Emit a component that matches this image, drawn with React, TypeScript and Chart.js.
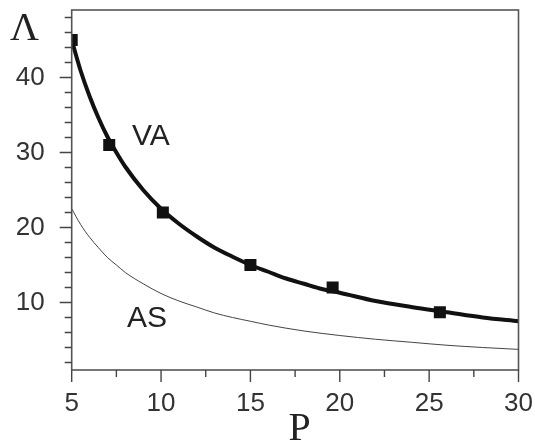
import React, { useEffect, useRef } from "react";
import { Chart, registerables } from "chart.js";

Chart.register(...registerables);

// VA fitted curve (thick line)
const vaCurveP = [5, 5.5, 6, 6.5, 7, 7.5, 8, 9, 10, 11, 12, 13, 14, 15, 16, 17, 18, 19, 20, 22, 24, 26, 28, 30];
const vaCurveL = [45, 40.9, 37.5, 34.6, 32.1, 30, 28.1, 25, 22.5, 20.5, 18.8, 17.3, 16.1, 15, 14.1, 13.2, 12.5, 11.8, 11.3, 10.2, 9.4, 8.7, 8.0, 7.5];
// VA measured points (squares)
const vaPointsP = [5, 7.1, 10.1, 15, 19.6, 25.6];
const vaPointsL = [45, 31, 22, 15, 12, 8.7];
// AS curve (thin line)
const asCurveP = [5, 5.5, 6, 6.5, 7, 7.5, 8, 9, 10, 11, 12, 13, 14, 15, 16, 18, 20, 22, 24, 26, 28, 30];
const asCurveL = [22.5, 20.4, 18.7, 17.3, 16, 15, 14, 12.5, 11.2, 10.2, 9.4, 8.6, 8.0, 7.5, 7.0, 6.2, 5.6, 5.1, 4.7, 4.3, 4.0, 3.75];

const xMajorTicks = [5, 10, 15, 20, 25, 30];
const xMinorTicks = [7.5, 12.5, 17.5, 22.5, 27.5];
const yMajorTicks = [10, 20, 30, 40];
const yMinorTicks = [2, 4, 6, 8, 12, 14, 16, 18, 22, 24, 26, 28, 32, 34, 36, 38, 42, 44, 46, 48];

const curveLabels = [
  { text: "VA", p: 8.37, l: 31.0 },
  { text: "AS", p: 8.09, l: 6.76 },
];
const xTitle = "P";
const yTitle = "Λ";

const zip = (xs: number[], ys: number[]) => xs.map((x, i) => ({ x, y: ys[i] }));

const zeroPad = (s: any) => {
  s.paddingTop = 0;
  s.paddingBottom = 0;
  s.paddingLeft = 0;
  s.paddingRight = 0;
};

export default function App() {
  const ref = useRef<HTMLCanvasElement | null>(null);
  useEffect(() => {
    document.body.style.margin = "0";
    const canvas = ref.current;
    if (!canvas) return;

    const decor = {
      id: "decor",
      afterDraw(chart: any) {
        const { ctx, chartArea: a, scales } = chart;
        const xs = scales.x;
        const ys = scales.y;
        ctx.save();
        // frame
        ctx.strokeStyle = "#555";
        ctx.lineWidth = 1.6;
        ctx.strokeRect(a.left, a.top, a.right - a.left, a.bottom - a.top);
        // ticks
        ctx.lineWidth = 1.4;
        ctx.strokeStyle = "#444";
        ctx.beginPath();
        const xt = (v: number, len: number) => {
          const px = xs.getPixelForValue(v);
          ctx.moveTo(px, a.bottom);
          ctx.lineTo(px, a.bottom + len);
        };
        const yt = (v: number, len: number) => {
          const py = ys.getPixelForValue(v);
          ctx.moveTo(a.left, py);
          ctx.lineTo(a.left - len, py);
        };
        xMajorTicks.forEach((v) => xt(v, 12));
        xMinorTicks.forEach((v) => xt(v, 7));
        yMajorTicks.forEach((v) => yt(v, 12));
        yMinorTicks.forEach((v) => yt(v, 7));
        ctx.stroke();
        // curve labels
        ctx.fillStyle = "#222";
        ctx.font = "30px 'Liberation Sans', Arial, sans-serif";
        ctx.textAlign = "left";
        ctx.textBaseline = "alphabetic";
        curveLabels.forEach((c) => {
          ctx.fillText(c.text, xs.getPixelForValue(c.p), ys.getPixelForValue(c.l));
        });
        // axis titles
        ctx.font = "40px 'Liberation Serif', 'Times New Roman', serif";
        ctx.textAlign = "center";
        ctx.fillText(xTitle, 299.5, 440);
        ctx.textAlign = "left";
        ctx.fillText(yTitle, 10, 40);
        ctx.restore();
      },
    };

    const chart = new Chart(canvas, {
      type: "line",
      data: {
        datasets: [
          {
            label: "VA",
            data: zip(vaCurveP, vaCurveL),
            borderColor: "#111",
            borderWidth: 4,
            pointRadius: 0,
            cubicInterpolationMode: "monotone",
            fill: false,
          },
          {
            label: "AS",
            data: zip(asCurveP, asCurveL),
            borderColor: "#444",
            borderWidth: 1,
            pointRadius: 0,
            cubicInterpolationMode: "monotone",
            fill: false,
          },
          {
            type: "scatter",
            label: "VA points",
            data: zip(vaPointsP, vaPointsL),
            pointStyle: "rect",
            pointRadius: 8.5,
            backgroundColor: "#111",
            borderColor: "#111",
            borderWidth: 0,
          } as any,
        ],
      },
      options: {
        animation: false,
        responsive: true,
        maintainAspectRatio: false,
        layout: { padding: { left: 0, top: 10, right: 16.5, bottom: 0 } },
        plugins: { legend: { display: false }, tooltip: { enabled: false } },
        scales: {
          x: {
            type: "linear",
            min: 5,
            max: 30,
            border: { display: false },
            grid: { display: false },
            afterBuildTicks: (s: any) => {
              s.ticks = xMajorTicks.map((v) => ({ value: v }));
            },
            afterFit: (s: any) => {
              s.height = 71;
              zeroPad(s);
            },
            ticks: {
              autoSkip: false,
              maxRotation: 0,
              padding: 10,
              color: "#333",
              font: { family: "'Liberation Sans', Arial, sans-serif", size: 26 },
            },
          },
          y: {
            type: "linear",
            min: 1,
            max: 49,
            border: { display: false },
            grid: { display: false },
            afterBuildTicks: (s: any) => {
              s.ticks = yMajorTicks.map((v) => ({ value: v }));
            },
            afterFit: (s: any) => {
              s.width = 71.7;
              zeroPad(s);
            },
            ticks: {
              autoSkip: false,
              padding: 19,
              color: "#333",
              font: { family: "'Liberation Sans', Arial, sans-serif", size: 26 },
            },
          },
        },
      },
      plugins: [decor],
    });
    return () => chart.destroy();
  }, []);

  return (
    <div style={{ position: "relative", width: 535, height: 441 }}>
      <canvas ref={ref} />
    </div>
  );
}
